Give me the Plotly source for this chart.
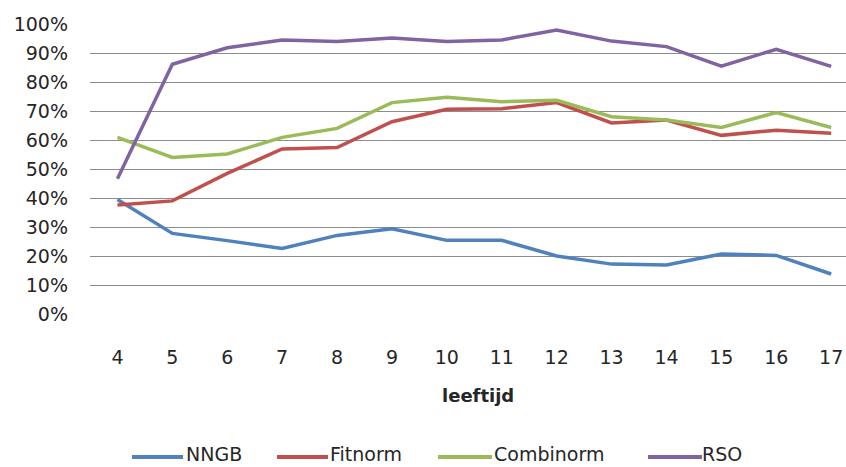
import plotly.graph_objects as go

ages = [4, 5, 6, 7, 8, 9, 10, 11, 12, 13, 14, 15, 16, 17]
nngb = [39.5, 27.8, 25.3, 22.6, 27.1, 29.4, 25.4, 25.4, 20.0, 17.2, 16.9, 20.7, 20.2, 13.8]
fitnorm = [37.6, 39.0, 48.5, 56.9, 57.4, 66.3, 70.6, 70.8, 72.9, 65.9, 66.9, 61.6, 63.4, 62.3]
combinorm = [60.9, 54.0, 55.2, 60.9, 64.0, 72.9, 74.7, 73.2, 73.7, 68.0, 66.9, 64.3, 69.5, 64.3]
rso = [46.6, 86.1, 91.8, 94.5, 94.0, 95.2, 94.0, 94.5, 97.9, 94.1, 92.2, 85.5, 91.3, 85.4]
series_names = ["NNGB", "Fitnorm", "Combinorm", "RSO"]
series_values = [nngb, fitnorm, combinorm, rso]
series_colors = ["#4F81BD", "#C0504D", "#9BBB59", "#8064A2"]
y_ticks = list(range(0, 101, 10))
y_labels = [f"{v}%" for v in y_ticks]

# layout geometry (pixels)
W, H = 846, 467
L, R, T, B = 90, 0, 24, 153
PW, PH = W - L - R, H - T - B
LEG_LINE_Y = 457
LEG_TEXT_Y = 454
LEG_LINE_X = [(132, 183), (277, 328), (438, 492), (648, 702)]
LEG_TEXT_X = [187, 331, 495, 703]


def px2x(px):
    return (px - L) / PW


def px2y(py):
    return (H - B - py) / PH


FONT = "DejaVu Sans, Verdana, sans-serif"
TXT = "#262626"

fig = go.Figure()
for name, vals, col in zip(series_names, series_values, series_colors):
    fig.add_trace(go.Scatter(x=ages, y=vals, name=name, mode="lines",
                             line=dict(color=col, width=3.5), showlegend=False))

shapes = []
annotations = [dict(text="<b>leeftijd</b>", xref="paper", yref="paper",
                    x=px2x(478), y=px2y(396), showarrow=False,
                    xanchor="center", yanchor="middle", font=dict(size=18, color=TXT))]
for name, col, (x0, x1), tx in zip(series_names, series_colors, LEG_LINE_X, LEG_TEXT_X):
    shapes.append(dict(type="line", xref="paper", yref="paper",
                       x0=px2x(x0), x1=px2x(x1), y0=px2y(LEG_LINE_Y), y1=px2y(LEG_LINE_Y),
                       line=dict(color=col, width=4)))
    annotations.append(dict(text=name, xref="paper", yref="paper",
                            x=px2x(tx), y=px2y(LEG_TEXT_Y), showarrow=False,
                            xanchor="left", yanchor="middle", borderpad=0,
                            xshift=-2, font=dict(size=19, color=TXT)))

fig.update_layout(
    width=W, height=H,
    margin=dict(l=L, r=R, t=T, b=B, pad=0, autoexpand=False),
    paper_bgcolor="white", plot_bgcolor="white",
    font=dict(family=FONT, size=19, color=TXT),
    showlegend=False,
    xaxis=dict(range=[3.5, 17.27], tickmode="array", tickvals=ages,
               ticktext=[str(a) for a in ages], showgrid=False, zeroline=False,
               showline=False, ticks="", ticklabelstandoff=30, fixedrange=True,
               automargin=False),
    yaxis=dict(range=[0, 100], tickmode="array", tickvals=y_ticks, ticktext=y_labels,
               showgrid=True, gridcolor="#8C8C8C", gridwidth=1, zeroline=False,
               showline=False, ticks="", ticklabelstandoff=21, fixedrange=True,
               automargin=False),
    shapes=shapes,
    annotations=annotations,
)

fig.write_html("out.html", config={"displayModeBar": False},
               post_script="document.body.style.margin='0';"
                           "document.body.style.overflow='hidden';")
